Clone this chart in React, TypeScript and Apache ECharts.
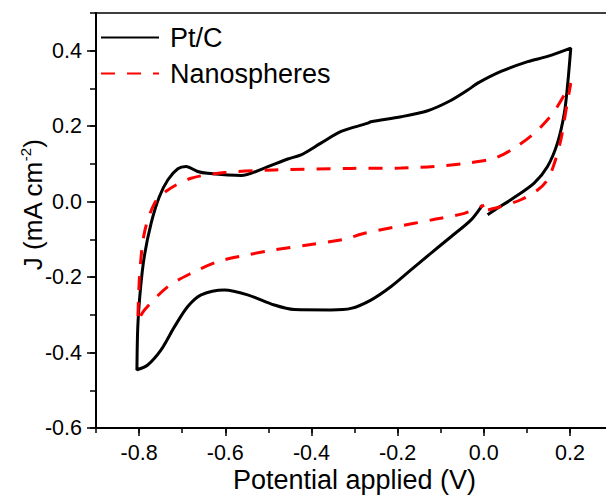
import React, { useEffect, useRef } from 'react';
import * as echarts from 'echarts';

const seriesNames = ['Pt/C', 'Nanospheres'];

const ptcPotential = [
  0.009, 0.035, 0.063, 0.117, 0.148, 0.171, 0.187, 0.195, 0.202,
  0.148, 0.102, 0.040, -0.014, -0.037, -0.080, -0.130, -0.192, -0.262, -0.269, -0.331, -0.378, -0.424, -0.455, -0.509, -0.563, -0.641, -0.664, -0.691, -0.710, -0.733, -0.753, -0.772, -0.788, -0.797, -0.803, -0.805,
  -0.780, -0.749, -0.718, -0.687, -0.656, -0.602, -0.548, -0.486, -0.440, -0.355, -0.308, -0.262, -0.215, -0.169, -0.123, -0.076, -0.030, -0.003,
];
const ptcCurrent = [
  -0.035, -0.015, 0.005, 0.049, 0.093, 0.155, 0.234, 0.314, 0.407,
  0.385, 0.371, 0.345, 0.314, 0.296, 0.266, 0.241, 0.225, 0.212, 0.208, 0.186, 0.155, 0.124, 0.113, 0.089, 0.069, 0.075, 0.080, 0.093, 0.087, 0.058, 0.013, -0.057, -0.146, -0.234, -0.332, -0.446,
  -0.433, -0.393, -0.332, -0.278, -0.247, -0.234, -0.247, -0.274, -0.286, -0.287, -0.283, -0.261, -0.225, -0.181, -0.137, -0.093, -0.049, -0.009,
];

const nanoPotential = [
  0.010, 0.040, 0.086, 0.125, 0.148, 0.164, 0.179, 0.191, 0.202,
  0.171, 0.148, 0.117, 0.071, 0.025, -0.038, -0.115, -0.192, -0.308, -0.486, -0.602, -0.679, -0.733, -0.764, -0.788, -0.799, -0.803,
  -0.788, -0.733, -0.679, -0.617, -0.548, -0.486, -0.409, -0.324, -0.277, -0.200, -0.123, -0.045, 0.001,
];
const nanoCurrent = [
  -0.022, -0.013, 0.005, 0.031, 0.058, 0.102, 0.164, 0.243, 0.314,
  0.252, 0.217, 0.181, 0.142, 0.115, 0.102, 0.093, 0.089, 0.088, 0.084, 0.077, 0.062, 0.031, -0.004, -0.084, -0.199, -0.318,
  -0.288, -0.225, -0.190, -0.159, -0.141, -0.128, -0.115, -0.100, -0.084, -0.066, -0.049, -0.031, -0.009,
];

const xMajorTicks = [-0.8, -0.6, -0.4, -0.2, 0.0, 0.2];
const yMajorTicks = [-0.6, -0.4, -0.2, 0.0, 0.2, 0.4];

const FONT = '"Liberation Sans", Arial, sans-serif';

function zip(xs: number[], ys: number[]) {
  return xs.map((x, i) => [x, ys[i]]);
}

export default function App() {
  const ref = useRef<HTMLDivElement>(null);
  useEffect(() => {
    if (!ref.current) return;
    const chart = echarts.init(ref.current, null, { renderer: 'svg' });
    const axisLineStyle = { color: '#000', width: 2 };
    const tickStyle = { color: '#000', width: 1.5 };
    chart.setOption({
      animation: false,
      backgroundColor: '#fff',
      grid: {
        left: 96, top: 13, right: -7, bottom: 67,
        show: true, borderColor: '#000', borderWidth: 1.5,
        containLabel: false, outerBoundsMode: 'none',
      },
      legend: {
        data: seriesNames,
        orient: 'vertical',
        left: 100, top: 24, padding: 0,
        itemWidth: 58, itemHeight: 14, itemGap: 9,
        itemStyle: { opacity: 0 },
        textStyle: { fontSize: 27, color: '#000', fontFamily: FONT, lineHeight: 27, padding: [0, 0, 0, 6] },
      },
      xAxis: [
        {
          type: 'value', min: -0.9, max: 0.3, interval: 0.1, position: 'bottom',
          axisLine: { show: true, onZero: false, lineStyle: axisLineStyle },
          axisTick: { show: true, inside: false, length: 5, lineStyle: tickStyle },
          axisLabel: { show: false },
          splitLine: { show: false },
        },
        {
          type: 'value', min: -0.9, max: 0.3, position: 'bottom',
          axisLine: { show: false, onZero: false },
          axisTick: { show: true, inside: false, length: 8, customValues: xMajorTicks, lineStyle: tickStyle },
          axisLabel: {
            show: true, customValues: xMajorTicks, margin: 15,
            formatter: (v: number) => v.toFixed(1),
            fontSize: 21.5, color: '#000', fontFamily: FONT, lineHeight: 20,
          },
          splitLine: { show: false },
          name: 'Potential applied (V)', nameLocation: 'middle', nameGap: 41.5,
          nameMoveOverlap: false,
          nameTextStyle: { fontSize: 27, color: '#000', fontFamily: FONT, lineHeight: 20 },
        },
      ],
      yAxis: [
        {
          type: 'value', min: -0.6, max: 0.5, interval: 0.1, position: 'left',
          axisLine: { show: true, onZero: false, lineStyle: axisLineStyle },
          axisTick: { show: true, inside: false, length: 6, lineStyle: tickStyle },
          axisLabel: { show: false },
          splitLine: { show: false },
        },
        {
          type: 'value', min: -0.6, max: 0.5, position: 'left',
          axisLine: { show: false, onZero: false },
          axisTick: { show: true, inside: false, length: 9, customValues: yMajorTicks, lineStyle: tickStyle },
          axisLabel: {
            show: true, customValues: yMajorTicks, margin: 14,
            formatter: (v: number) => v.toFixed(1),
            fontSize: 21.5, color: '#000', fontFamily: FONT,
          },
          splitLine: { show: false },
        },
      ],
      graphic: [
        {
          type: 'text', x: 33, y: 205, rotation: Math.PI / 2,
          style: {
            text: '{a|J (mA cm}{s|-2}{a|)}',
            align: 'center', verticalAlign: 'middle',
            rich: {
              a: { fontSize: 26, fontFamily: FONT, fill: '#000', lineHeight: 30 },
              s: { fontSize: 15, fontFamily: FONT, fill: '#000', verticalAlign: 'top', lineHeight: 30 },
            },
          },
        },
      ],
      series: [
        {
          name: seriesNames[0], type: 'line', xAxisIndex: 0, yAxisIndex: 0,
          data: zip(ptcPotential, ptcCurrent),
          symbol: 'none', smooth: 0.3,
          lineStyle: { color: '#000', width: 3 },
          itemStyle: { color: '#000' },
        },
        {
          name: seriesNames[1], type: 'line', xAxisIndex: 0, yAxisIndex: 0,
          data: zip(nanoPotential, nanoCurrent),
          symbol: 'none', smooth: 0.3,
          lineStyle: { color: '#ff0000', width: 3, type: [14, 12] },
          itemStyle: { color: '#ff0000' },
        },
      ],
    });
    return () => chart.dispose();
  }, []);
  return (
    <div
      ref={ref}
      style={{ position: 'fixed', left: 0, top: 0, width: 606, height: 495, background: '#fff' }}
    />
  );
}
